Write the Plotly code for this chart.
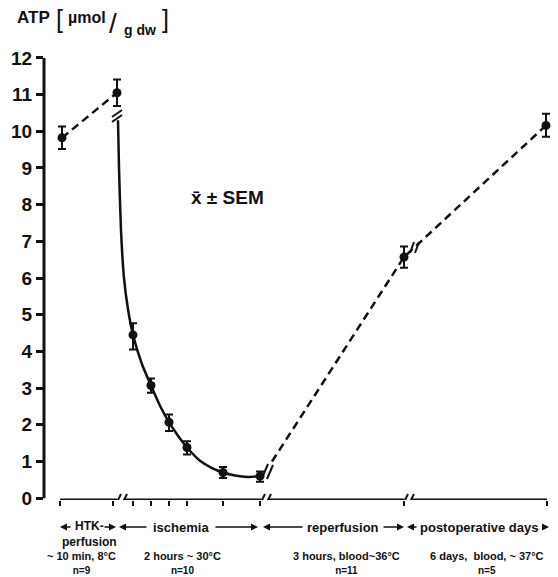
import plotly.graph_objects as go

# ---------------- data ----------------
# x positions on the broken time axis (axis units), ATP values and SEM
pos = [62, 117, 133, 151, 169, 187, 223, 260, 404, 546]
atp = [9.82, 11.05, 4.45, 3.07, 2.07, 1.38, 0.70, 0.60, 6.57, 10.16]
sem_up = [0.31, 0.36, 0.32, 0.19, 0.21, 0.17, 0.15, 0.13, 0.29, 0.32]
sem_dn = [0.30, 0.36, 0.40, 0.20, 0.24, 0.19, 0.15, 0.15, 0.29, 0.31]

# solid fitted curve through the ischemia phase
fit_x = [118, 119, 121, 124, 128, 133, 142, 151, 160, 169, 178, 187, 200, 212, 223, 235, 248, 260]
fit_y = [10.3, 9.0, 7.3, 6.0, 5.15, 4.45, 3.65, 3.07, 2.52, 2.07, 1.70, 1.38, 1.02, 0.82, 0.70, 0.62, 0.58, 0.60]

# start of the dashed reperfusion line (right after the break mark)
rep_start_x = [272]
rep_start_y = [1.0]

y_ticks = list(range(0, 13))
x_ticks = [60, 113, 133, 151, 169, 187, 223, 260, 404, 547]
axis_breaks = [121, 265, 408]
axis_start, axis_end = 60, 547

phase_conditions = ["~ 10 min, 8°C", "2 hours ~ 30°C", "3 hours, blood~36°C", "6 days,  blood, ~ 37°C"]
phase_n = ["n=9", "n=10", "n=11", "n=5"]

# ---------------- geometry helpers ----------------
W, H = 558, 577
ML, MR, MT, MB = 44, 0, 30, 77
YMIN, YMAX = -0.05, 12.76
PLOT_W = W - ML - MR
PLOT_H = H - MT - MB
K = PLOT_H / (YMAX - YMIN)


def py2y(py):
    return YMAX - (py - MT) / K


def y2py(y):
    return MT + (YMAX - y) * K


def px2paper(px):
    return (px - ML) / PLOT_W


def py2paper(py):
    return (MT + PLOT_H - py) / PLOT_H


FONT = "Liberation Sans, Arial, DejaVu Sans, sans-serif"
BLACK = "#111111"

fig = go.Figure()

# dashed line HTK -> start of ischemia
fig.add_trace(go.Scatter(x=pos[0:2], y=atp[0:2], mode="lines",
                         line=dict(color=BLACK, width=2.5, dash="8px,5px"),
                         hoverinfo="skip"))
# solid ischemia curve
fig.add_trace(go.Scatter(x=fit_x, y=fit_y, mode="lines",
                         line=dict(color=BLACK, width=2.5, shape="spline", smoothing=0.6),
                         hoverinfo="skip"))
# dashed reperfusion / postoperative line
fig.add_trace(go.Scatter(x=rep_start_x + pos[8:], y=rep_start_y + atp[8:], mode="lines",
                         line=dict(color=BLACK, width=2.5, dash="8px,5px"),
                         hoverinfo="skip"))
# points with SEM
fig.add_trace(go.Scatter(x=pos, y=atp, mode="markers",
                         marker=dict(color=BLACK, size=9),
                         error_y=dict(type="data", array=sem_up, arrayminus=sem_dn,
                                      color=BLACK, thickness=2, width=4),
                         cliponaxis=False))

shapes = []
# y axis line 0..12
shapes.append(dict(type="line", xref="paper", yref="y", x0=0, x1=0, y0=0, y1=12,
                   line=dict(color=BLACK, width=3)))

# x axis line with breaks
seg_edges = [axis_start]
for b in axis_breaks:
    seg_edges += [b - 4, b + 4]
seg_edges.append(axis_end)
y_axis_py = y2py(YMIN)
for i in range(0, len(seg_edges), 2):
    shapes.append(dict(type="line", xref="x", yref="y", x0=seg_edges[i], x1=seg_edges[i + 1],
                       y0=YMIN, y1=YMIN, line=dict(color=BLACK, width=3)))
for b in axis_breaks:
    for dx in (-3, 3):
        shapes.append(dict(type="line", xref="x", yref="y",
                           x0=b + dx - 3, x1=b + dx + 3,
                           y0=py2y(y_axis_py + 6), y1=py2y(y_axis_py - 6),
                           line=dict(color=BLACK, width=2)))


def data_break(x0, py0, x1, py1, off_x, off_y):
    for s in (0, 1):
        shapes.append(dict(type="line", xref="x", yref="y",
                           x0=x0 + s * off_x, x1=x1 + s * off_x,
                           y0=py2y(py0 + s * off_y), y1=py2y(py1 + s * off_y),
                           line=dict(color=BLACK, width=2)))


# break marks on curves
data_break(112, 117, 122, 110, 0, 5)
data_break(262, 478, 268, 464, 5, 1)
data_break(410, 253, 414, 242, 5, 0)

annotations = []


def txt(px, py, s, size=12, anchor="center", bold=True):
    annotations.append(dict(x=px2paper(px), y=py2paper(py), xref="paper", yref="paper",
                            text=s, showarrow=False,
                            xanchor=anchor, yanchor="middle",
                            font=dict(family=FONT, size=size, color=BLACK,
                                      weight="bold" if bold else "normal")))


def arrow(x_tail, x_tip, py):
    annotations.append(dict(x=px2paper(x_tip), y=py2paper(py), xref="paper", yref="paper",
                            ax=x_tail - x_tip, ay=0, axref="pixel", ayref="pixel",
                            text="", showarrow=True,
                            arrowhead=2, arrowsize=1.0, arrowwidth=1.4, arrowcolor=BLACK))


# y-axis title
txt(15, 18, "ATP", 17, "left")
txt(54, 19, "[", 25, "left", bold=False)
txt(66, 18, "µmol", 16, "left")
txt(107, 23, "/", 28, "left", bold=False)
txt(122, 30, "g dw", 14, "left")
txt(160, 19, "]", 25, "left", bold=False)

# mean ± SEM label
txt(227, 198, "x̄ ± SEM", 19)

# phase labels
ROW1 = 527
txt(89, 534, "HTK-<br>perfusion", 12)
arrow(72, 60, ROW1)
arrow(103, 116, ROW1)
txt(181, ROW1, "ischemia", 13)
arrow(148, 119, ROW1)
arrow(214, 258, ROW1)
txt(343, ROW1, "reperfusion", 13)
arrow(304, 263, ROW1)
arrow(382, 404, ROW1)
txt(479, ROW1, "postoperative days", 13)
arrow(418, 407, ROW1)
arrow(541, 549, ROW1)

cond_x = [81, 182, 346, 487]
for cx, cond, n in zip(cond_x, phase_conditions, phase_n):
    txt(cx, 563, cond + "<br><span style='font-size:10px'>" + n + "</span>", 11)

fig.update_layout(
    width=W, height=H,
    margin=dict(l=ML, r=MR, t=MT, b=MB),
    paper_bgcolor="white", plot_bgcolor="white",
    showlegend=False,
    shapes=shapes,
    annotations=annotations,
    xaxis=dict(range=[ML, W - MR], showgrid=False, zeroline=False, showline=False,
               tickmode="array", tickvals=x_ticks, ticks="outside", ticklen=5,
               tickwidth=2, tickcolor=BLACK, showticklabels=False, fixedrange=True),
    yaxis=dict(range=[YMIN, YMAX], showgrid=False, zeroline=False, showline=False,
               tickmode="array", tickvals=y_ticks, ticks="outside", ticklen=7,
               tickwidth=2.5, tickcolor=BLACK,
               tickfont=dict(family=FONT, size=19, color=BLACK, weight="bold"),
               fixedrange=True),
)

fig.write_html("out.html")
